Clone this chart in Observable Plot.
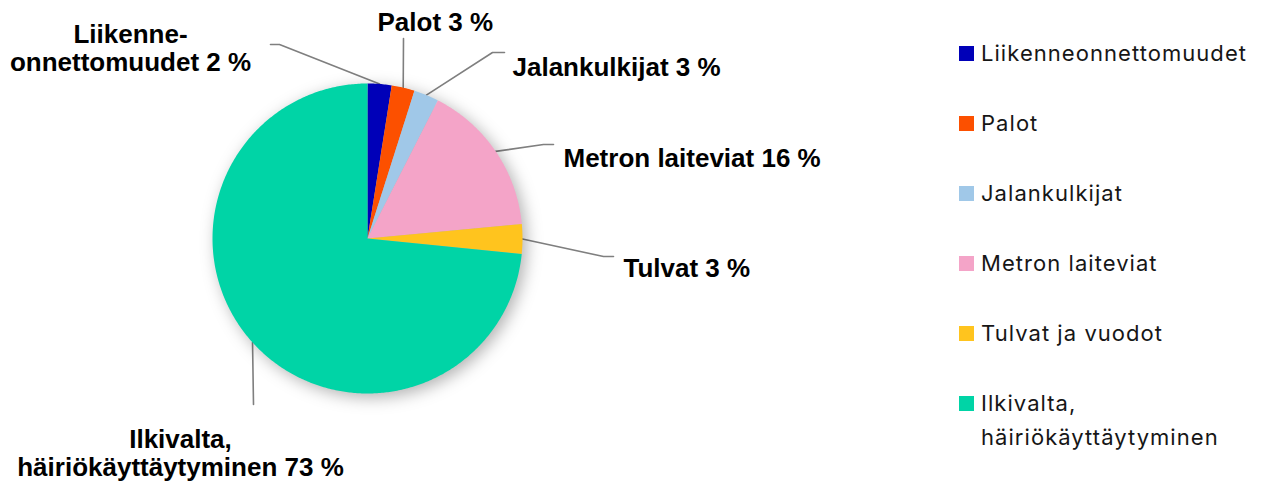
<!DOCTYPE html>
<html><head><meta charset="utf-8">
<script src="https://cdn.jsdelivr.net/npm/d3@7"></script>
<script src="https://cdn.jsdelivr.net/npm/@observablehq/plot@0.6"></script>
<style>
body{margin:0;background:#fff;}
#wrap{position:relative;width:1262px;height:484px;overflow:hidden;}
#legend{position:absolute;left:959px;top:0;font-family:Inter,"Noto Sans",sans-serif;font-size:22px;letter-spacing:1.05px;color:#161616;}
.row{position:absolute;left:0;white-space:nowrap;line-height:34px;}
.sw{position:absolute;left:0;width:15px;height:15px;}
.tx{position:absolute;left:22px;}
</style></head><body><div id="wrap"></div>
<script>
// ---- data ----
const categories = ["Liikenneonnettomuudet","Palot","Jalankulkijat","Metron laiteviat","Tulvat ja vuodot","Ilkivalta, häiriökäyttäytyminen"];
const shares = [2.5, 2.4, 2.6, 16.0, 3.1, 73.4];
const labelTexts = ["Liikenne-\nonnettomuudet 2 %","Palot 3 %","Jalankulkijat 3 %","Metron laiteviat 16 %","Tulvat 3 %","Ilkivalta,\nhäiriökäyttäytyminen 73 %"];
const legendTexts = ["Liikenneonnettomuudet","Palot","Jalankulkijat","Metron laiteviat","Tulvat ja vuodot","Ilkivalta,\nhäiriökäyttäytyminen"];
const colors = ["#0000b8","#fc5000","#a0c8e8","#f4a4c8","#ffc41e","#00d4a6"];

// ---- layout (pixels) ----
const W = 1262, H = 484, CX = 367, CY = 238, R = 155;
// leader elbow / end points and label anchors, in pixels
const leaderPts = [
  [[279,44],[270,44]],
  [[403,38]],
  [[492,52],[504,52]],
  [[543,144],[553,144]],
  [[603,256],[613,256]],
  [[253,404]]
];
const labelPos = [[130,47.75,"middle"],[377,21.5,"start"],[512,67,"start"],[563,157.5,"start"],[623,268,"start"],[180,452.75,"middle"]];
const legendRowY = [53,123,193,263,333,403];

const ux = px => (px - CX) / R, uy = py => (py - CY) / R;

// slices from the data
const total = d3.sum(shares);
let acc = 0;
const slices = categories.map((name, i) => {
  const a0 = acc / total * 2 * Math.PI; acc += shares[i];
  const a1 = acc / total * 2 * Math.PI;
  return {name, i, a0, a1, mid: (a0 + a1) / 2};
});
const polyPts = [];
for (const s of slices) {
  polyPts.push({name: s.name, x: 0, y: 0});
  const n = Math.max(2, Math.ceil((s.a1 - s.a0) / 0.01));
  for (let k = 0; k <= n; k++) {
    const a = s.a0 + (s.a1 - s.a0) * k / n;
    polyPts.push({name: s.name, x: Math.sin(a), y: -Math.cos(a)});
  }
  polyPts.push({name: s.name, x: 0, y: 0});
}
const leaderData = [];
slices.forEach((s, i) => {
  leaderData.push({name: s.name, x: Math.sin(s.mid), y: -Math.cos(s.mid)});
  for (const p of leaderPts[i]) leaderData.push({name: s.name, x: ux(p[0]), y: uy(p[1])});
});
const labels = slices.map((s, i) => ({text: labelTexts[i], x: ux(labelPos[i][0]), y: uy(labelPos[i][1]), anchor: labelPos[i][2]}));

const chart = Plot.plot({
  width: W, height: H,
  margin: 0,
  x: {domain: [ux(0), ux(W)], range: [0, W], axis: null},
  y: {domain: [uy(0), uy(H)], range: [0, H], axis: null},
  color: {domain: categories, range: colors},
  style: {background: "transparent"},
  marks: [
    Plot.line(leaderData, {x: "x", y: "y", z: "name", stroke: "#7f7f7f", strokeWidth: 1.6, curve: "linear"}),
    Plot.line(polyPts, {x: "x", y: "y", z: "name", fill: "name", stroke: "none", curve: "linear", className: "pie"}),
    Plot.text(labels.filter(d => d.anchor === "start"), {x: "x", y: "y", text: "text", textAnchor: "start", fontSize: 26, fontWeight: "bold", fontFamily: "Liberation Sans, Arial, sans-serif", fill: "#000", lineHeight: 1.077}),
    Plot.text(labels.filter(d => d.anchor === "middle"), {x: "x", y: "y", text: "text", textAnchor: "middle", fontSize: 26, fontWeight: "bold", fontFamily: "Liberation Sans, Arial, sans-serif", fill: "#000", lineHeight: 1.077})
  ]
});
const wrap = document.getElementById("wrap");
wrap.appendChild(chart);
chart.querySelectorAll("g.pie, .pie").forEach(g => g.style.filter = "drop-shadow(4px 4px 8px rgba(0,0,0,0.3))");

const legend = document.createElement("div");
legend.id = "legend";
categories.forEach((c, i) => {
  const row = document.createElement("div");
  row.className = "row";
  row.style.top = (legendRowY[i] - 17) + "px";
  const sw = document.createElement("div");
  sw.className = "sw"; sw.style.background = colors[i]; sw.style.top = "10px";
  const tx = document.createElement("div");
  tx.className = "tx";
  tx.innerHTML = legendTexts[i].split("\n").join("<br>");
  row.appendChild(sw); row.appendChild(tx);
  legend.appendChild(row);
});
wrap.appendChild(legend);
</script>
</body></html>
